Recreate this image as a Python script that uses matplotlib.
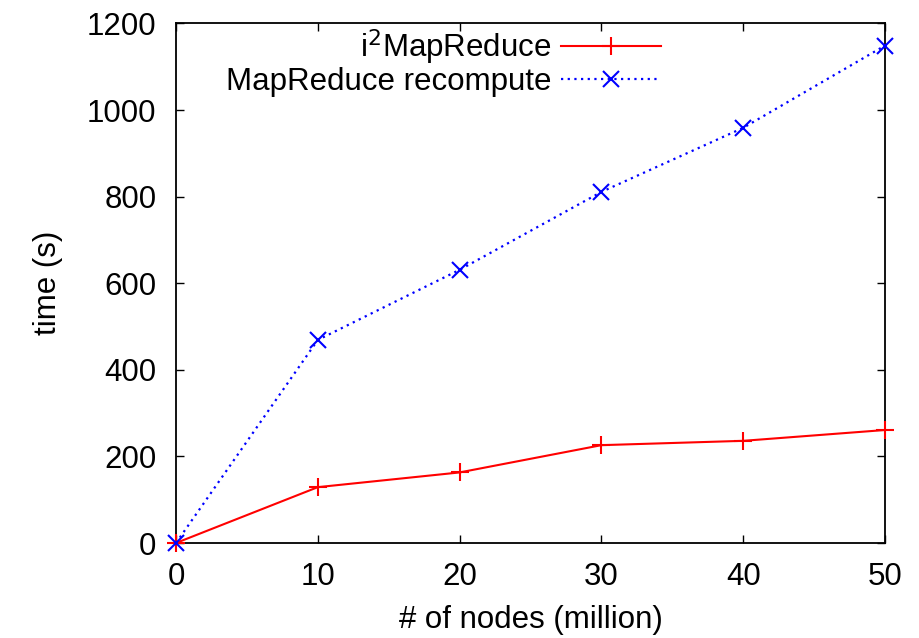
import matplotlib
matplotlib.use("Agg")
import matplotlib.pyplot as plt

plt.rcParams['font.family'] = ['Liberation Sans', 'DejaVu Sans']

nodes = [0, 10, 20, 30, 40, 50]
i2_time = [0, 129, 163, 226, 236, 261]
recompute_time = [0, 469, 631, 811, 959, 1149]
xticks = [0, 10, 20, 30, 40, 50]
yticks = [0, 200, 400, 600, 800, 1000, 1200]

FS = 22.5

fig = plt.figure(figsize=(9.2, 6.38), dpi=100)
ax = fig.add_axes([0.1913, 0.1489, 0.7707, 0.8143])

ax.plot(nodes, i2_time, color='#ff0000', lw=1.5, marker='+', ms=13, mew=1.5,
        label=r'i$^2$MapReduce', clip_on=False, zorder=3)
ax.plot(nodes, recompute_time, color='#0000ff', lw=1.6, ls=(0, (1, 2)), marker='x',
        ms=12, mew=1.5, label='MapReduce recompute', clip_on=False, zorder=3)

ax.set_xlim(0, 50)
ax.set_ylim(0, 1200)
ax.set_xticks(xticks)
ax.set_yticks(yticks)
ax.tick_params(direction='in', length=6, width=1.0, top=True, right=True,
               labelsize=FS, pad=14)
for s in ax.spines.values():
    s.set_linewidth(1.3)

ax.set_xlabel('# of nodes (million)', fontsize=FS, labelpad=9)
ax.set_ylabel('time (s)', fontsize=FS, labelpad=17)

leg = ax.legend(loc='upper right', bbox_to_anchor=(0.684, 0.993), frameon=False,
                markerfirst=False, fontsize=FS, handlelength=3.2,
                handletextpad=0.3, labelspacing=0.0, borderaxespad=0, borderpad=0)
try:
    leg._legend_box._children[1]._children[0].align = 'right'
except Exception:
    pass

fig.savefig('out.png', dpi=100)
